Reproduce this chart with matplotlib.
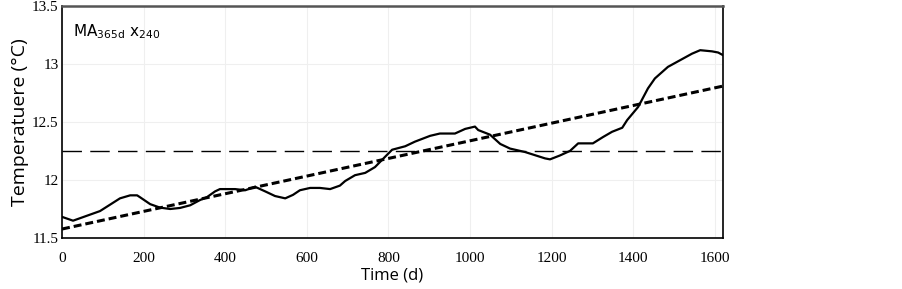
import matplotlib
matplotlib.use("Agg")
import matplotlib.pyplot as plt
import numpy as np

# moving-average temperature (day, degC)
days = [0, 27, 93, 142, 167, 184, 191, 216, 240, 265, 289, 314, 338, 355, 375,
        387, 424, 449, 473, 498, 522, 547, 566, 583, 608, 632, 657, 681, 694,
        718, 743, 767, 792, 809, 841, 865, 902, 926, 963, 988, 1012, 1020,
        1049, 1074, 1098, 1135, 1184, 1196, 1220, 1245, 1265, 1301, 1326,
        1348, 1373, 1385, 1412, 1436, 1453, 1485, 1515, 1544, 1564, 1593,
        1608, 1620]
temps = [11.68, 11.647, 11.73, 11.84, 11.866, 11.866, 11.85, 11.79, 11.76,
         11.748, 11.757, 11.78, 11.825, 11.85, 11.90, 11.92, 11.92, 11.91,
         11.94, 11.90, 11.86, 11.84, 11.87, 11.91, 11.93, 11.93, 11.92, 11.95,
         11.99, 12.04, 12.06, 12.11, 12.20, 12.26, 12.29, 12.33, 12.38, 12.40,
         12.40, 12.44, 12.46, 12.43, 12.39, 12.31, 12.27, 12.24, 12.185,
         12.177, 12.21, 12.25, 12.315, 12.315, 12.37, 12.415, 12.45, 12.516,
         12.63, 12.79, 12.876, 12.976, 13.034, 13.09, 13.12, 13.11, 13.10,
         13.077]

# linear trend end points and overall mean
trend_days = [0, 1620]
trend_temps = [11.575, 12.81]
mean_temp = 12.25

xticks = [0, 200, 400, 600, 800, 1000, 1200, 1400, 1600]
yticks = [11.5, 12, 12.5, 13, 13.5]

plt.rcParams['mathtext.fontset'] = 'custom'
plt.rcParams['mathtext.rm'] = 'Open Sans'

fig = plt.figure(figsize=(9.03, 2.89), dpi=100)
ax = fig.add_axes([0.0687, 0.1775, 0.732, 0.801])

ax.plot(days, temps, color='black', lw=1.6, zorder=3)
ax.plot(trend_days, trend_temps, color='black', lw=2.2, dashes=(2.6, 1.3), zorder=3)
ax.axhline(mean_temp, color='black', lw=1.0, dashes=(14, 6), zorder=2)

ax.set_xlim(0, 1620)
ax.set_ylim(11.5, 13.5)
ax.set_xticks(xticks)
ax.set_xticklabels([str(t) for t in xticks])
ax.set_yticks(yticks)
ax.set_yticklabels(['11.5', '12', '12.5', '13', '13.5'])
ax.tick_params(length=0, labelsize=11)
ax.tick_params(axis='y', pad=2.5)
ax.tick_params(axis='x', pad=10)
for lab in ax.get_xticklabels() + ax.get_yticklabels():
    lab.set_family('Liberation Serif')
ax.grid(color='#efefef', lw=0.8)
ax.set_axisbelow(True)

for s in ['left', 'bottom', 'right']:
    ax.spines[s].set_color('black')
    ax.spines[s].set_linewidth(1.2)
ax.spines['top'].set_color('#555555')
ax.spines['top'].set_linewidth(1.8)

ax.set_xlabel('Time (d)', family='Open Sans', fontsize=12, labelpad=2)
ax.set_ylabel('Temperatuere (°C)', family='Open Sans', fontsize=14, labelpad=2)

ax.text(0.016, 0.93, r'$\mathregular{MA_{365d}\ x_{240}}$', transform=ax.transAxes,
        fontsize=11, va='top', ha='left')

fig.savefig('out.png', dpi=100)
